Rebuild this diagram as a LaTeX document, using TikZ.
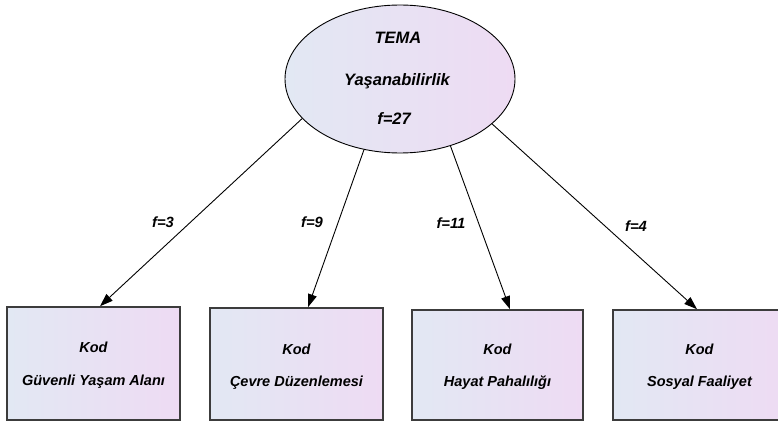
\documentclass[tikz,border=0pt]{standalone}
\usepackage{fontspec}
\setmainfont{Liberation Sans}
\usetikzlibrary{arrows.meta,shapes.geometric}
\definecolor{fillL}{RGB}{226,232,243}
\definecolor{fillR}{RGB}{238,219,243}
\definecolor{boxline}{RGB}{60,60,60}
\tikzset{
  codebox/.style={draw=boxline,line width=1.6pt,left color=fillL,right color=fillR,
    minimum width=173pt,inner sep=0pt},
  themeell/.style={ellipse,draw=black,line width=0.9pt,left color=fillL,right color=fillR,
    minimum width=230pt,minimum height=148pt,inner sep=0pt},
  boxtxt/.style={font=\fontsize{14.5}{17}\selectfont\bfseries\itshape,inner sep=0pt,anchor=base},
  elltxt/.style={font=\fontsize{16.5}{19}\selectfont\bfseries\itshape,inner sep=0pt,anchor=base},
  freqtxt/.style={font=\fontsize{14.8}{18}\selectfont\bfseries\itshape,inner sep=0pt,anchor=base},
  link/.style={line width=0.9pt,-{Triangle[length=13pt,width=9pt]}}
}
\begin{document}
\begin{tikzpicture}[x=1pt,y=-1pt]
\useasboundingbox (0,0) rectangle (778,422);
% theme ellipse
\node[themeell] (e) at (400,79) {};
\node[elltxt] (t1) at (398,44) {TEMA};
\node[elltxt] (t2) at (397,86) {Yaşanabilirlik};
\node[elltxt] (t3) at (394,125) {f=27};
% code boxes
\node[codebox,minimum height=113pt] (b1) at (93.5,363.5) {};
\node[codebox,minimum height=112pt] (b2) at (296.5,364) {};
\node[codebox,minimum height=110pt,minimum width=171pt] (b3) at (497.5,365) {};
\node[codebox,minimum height=110pt] (b4) at (699.5,365) {};
\node[boxtxt] (b1k) at (93.5,352) {Kod};
\node[boxtxt] (b1l) at (93.5,385) {Güvenli Yaşam Alanı};
\node[boxtxt] (b2k) at (296.5,354) {Kod};
\node[boxtxt] (b2l) at (296.5,386) {Çevre Düzenlemesi};
\node[boxtxt] (b3k) at (497.5,354) {Kod};
\node[boxtxt] (b3l) at (497.5,386) {Hayat Pahalılığı};
\node[boxtxt] (b4k) at (699.5,354) {Kod};
\node[boxtxt] (b4l) at (699.5,386) {Sosyal Faaliyet};
% connectors
\draw[link] (e.202.9) -- ([xshift=6.5pt]b1.north);
\draw[link] (e.243.8) -- ([xshift=11.5pt]b2.north);
\draw[link] (e.307.8) -- ([xshift=12.5pt]b3.north);
\draw[link] (e.334.7) -- ([xshift=-2.5pt]b4.north);
% frequencies
\node[freqtxt] (f1) at (163,227) {f=3};
\node[freqtxt] (f2) at (312,227) {f=9};
\node[freqtxt] (f3) at (451,228) {f=11};
\node[freqtxt] (f4) at (636,231) {f=4};
\end{tikzpicture}
\end{document}
